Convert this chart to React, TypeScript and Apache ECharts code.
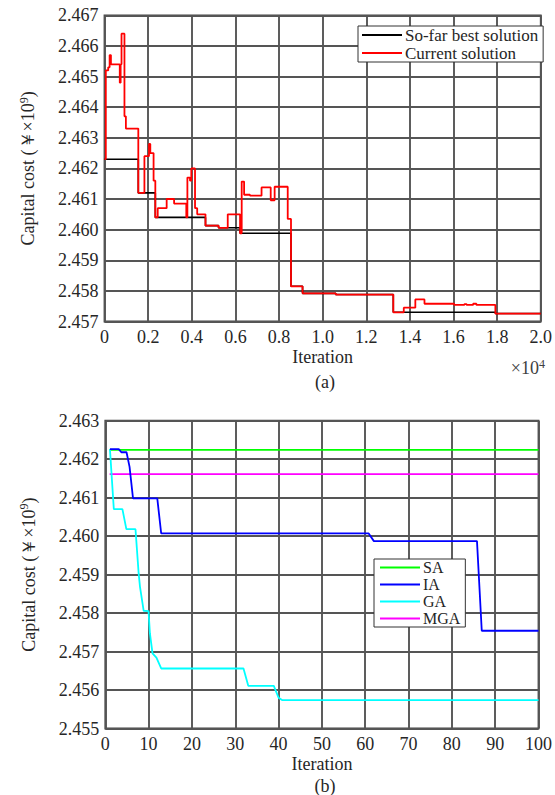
import React, { useEffect, useRef } from 'react';
import * as echarts from 'echarts';

const topXTickLabels = ['0', '0.2', '0.4', '0.6', '0.8', '1.0', '1.2', '1.4', '1.6', '1.8', '2.0'];
const topYTickLabels = ['2.457', '2.458', '2.459', '2.460', '2.461', '2.462', '2.463', '2.464', '2.465', '2.466', '2.467'];
const bottomXTickLabels = ['0', '10', '20', '30', '40', '50', '60', '70', '80', '90', '100'];
const bottomYTickLabels = ['2.455', '2.456', '2.457', '2.458', '2.459', '2.460', '2.461', '2.462', '2.463'];

const topLegendNames = ['So-far best solution', 'Current solution'];
const bottomLegendNames = ['SA', 'IA', 'GA', 'MGA'];

// (a) iteration, capital cost  (step: value holds until next point)
const currentSolution: [number, number][] = [
  [0, 2.4623], [60, 2.4652], [170, 2.4653], [235, 2.4657], [295, 2.4654],
  [700, 2.4648], [740, 2.4654], [780, 2.4664], [915, 2.4637], [980, 2.4633],
  [1550, 2.4612], [1830, 2.4624], [2040, 2.4628], [2100, 2.4625], [2250, 2.4616],
  [2330, 2.4604], [2440, 2.4607], [2850, 2.4610], [3190, 2.46085], [3750, 2.4604],
  [3800, 2.4617], [3920, 2.4616], [3980, 2.4620], [4150, 2.4607], [4250, 2.4605],
  [4630, 2.46013], [5230, 2.46006], [5650, 2.4605], [6215, 2.45988], [6290, 2.46157],
  [6400, 2.46114], [6670, 2.46111], [7200, 2.46138], [7620, 2.46096], [7800, 2.4614],
  [8400, 2.46035], [8550, 2.45815], [9080, 2.45792], [10600, 2.45788], [13240, 2.4573],
  [13720, 2.45745], [14250, 2.45772], [14670, 2.45758], [16030, 2.45754], [16500, 2.45757],
  [16600, 2.45754], [16900, 2.45758], [17050, 2.45754], [17920, 2.45726], [20000, 2.45726],
];
const bestSolution: [number, number][] = [
  [0, 2.4623], [1550, 2.4612], [2330, 2.4604], [4630, 2.46013], [5230, 2.46006],
  [6215, 2.45988], [8550, 2.45815], [9080, 2.45792], [10600, 2.45788], [13240, 2.4573],
  [17920, 2.45726], [20000, 2.45726],
];

// (b) iteration, capital cost
const saCurve: [number, number][] = [[1, 2.46224], [100, 2.46224]];
const mgaCurve: [number, number][] = [[1, 2.46161], [100, 2.46161]];
const iaCurve: [number, number][] = [
  [1.07, 2.46226], [3.1, 2.46226], [3.7, 2.46218], [4.9, 2.46218], [5.6, 2.4618],
  [6.4, 2.46098], [12.0, 2.46098], [12.9, 2.46007], [60.8, 2.46007], [62, 2.45987],
  [85.8, 2.45987], [86.9, 2.45754], [100, 2.45754],
];
const gaCurve: [number, number][] = [
  [1.07, 2.46226], [1.97, 2.4607], [3.95, 2.4607], [4.86, 2.46018], [6.97, 2.46018],
  [7.7, 2.45903], [8.0, 2.45869], [8.86, 2.45806], [9.98, 2.45805], [10.3, 2.45747],
  [10.9, 2.45695], [11.8, 2.45684], [12.9, 2.45656], [31.9, 2.45656], [33.0, 2.45611],
  [38.9, 2.45611], [40.0, 2.4558], [40.8, 2.45574], [100, 2.45574],
];

const FONT = 'Liberation Serif';
const TXT = '#262626';
const GRIDC = '#555555';
const FS = 18;

export default function App() {
  const ref = useRef<HTMLDivElement>(null);
  useEffect(() => {
    if (!ref.current) return;
    const chart = echarts.init(ref.current, null, { renderer: 'svg' });
    const yName = 'Capital cost (￥×10{sup|9})';
    const axisLabel = { color: TXT, fontFamily: FONT, fontSize: FS };
    const splitLine = { show: true, lineStyle: { color: GRIDC, width: 1.9 } };
    const nameTextStyle = {
      color: TXT, fontFamily: FONT, fontSize: FS,
      rich: { sup: { fontSize: 12, fontFamily: FONT, color: TXT, verticalAlign: 'top', padding: [0, 0, 9, 0] } },
    };
    const option: any = {
      animation: false,
      backgroundColor: '#fff',
      textStyle: { fontFamily: FONT, color: TXT },
      grid: [
        { left: 104.5, top: 15.3, right: 9, height: 306.2, show: true, borderColor: '#444', borderWidth: 1.8, backgroundColor: 'transparent' },
        { left: 105.3, top: 420.7, right: 9, height: 307.8, show: true, borderColor: '#444', borderWidth: 1.8, backgroundColor: 'transparent' },
      ],
      xAxis: [
        {
          type: 'value', gridIndex: 0, min: 0, max: 20000, interval: 2000,
          axisLine: { show: false }, axisTick: { show: false }, splitLine,
          axisLabel: { ...axisLabel, margin: 6, formatter: (v: number) => topXTickLabels[Math.round(v / 2000)] },
          name: 'Iteration', nameLocation: 'middle', nameGap: 26, nameTextStyle: { color: TXT, fontFamily: FONT, fontSize: FS },
        },
        {
          type: 'value', gridIndex: 1, min: 0, max: 100, interval: 10,
          axisLine: { show: false }, axisTick: { show: false }, splitLine,
          axisLabel: { ...axisLabel, margin: 6, formatter: (v: number) => bottomXTickLabels[Math.round(v / 10)] },
          name: 'Iteration', nameLocation: 'middle', nameGap: 26, nameTextStyle: { color: TXT, fontFamily: FONT, fontSize: FS },
        },
      ],
      yAxis: [
        {
          type: 'value', gridIndex: 0, min: 2.457, max: 2.467, interval: 0.001,
          axisLine: { show: false }, axisTick: { show: false }, splitLine,
          axisLabel: { ...axisLabel, margin: 6, formatter: (v: number) => topYTickLabels[Math.round((v - 2.457) / 0.001)] },
          name: yName, nameLocation: 'middle', nameGap: 66, nameRotate: 90, nameTextStyle,
        },
        {
          type: 'value', gridIndex: 1, min: 2.455, max: 2.463, interval: 0.001,
          axisLine: { show: false }, axisTick: { show: false }, splitLine,
          axisLabel: { ...axisLabel, margin: 6, formatter: (v: number) => bottomYTickLabels[Math.round((v - 2.455) / 0.001)] },
          name: yName, nameLocation: 'middle', nameGap: 66, nameRotate: 90, nameTextStyle,
        },
      ],
      legend: [
        {
          data: topLegendNames, orient: 'vertical', left: 358, top: 26,
          icon: 'rect', itemWidth: 40, itemHeight: 2, itemGap: 0,
          padding: [0, 5, 0, 4], borderColor: '#333', borderWidth: 1, backgroundColor: '#fff',
          textStyle: { color: TXT, fontFamily: FONT, fontSize: 17, lineHeight: 18, padding: [0, 0, 0, -2] },
        },
        {
          data: bottomLegendNames, orient: 'vertical', left: 374, top: 559,
          icon: 'rect', itemWidth: 40, itemHeight: 2, itemGap: 0,
          padding: [0, 5, 0, 6], borderColor: '#333', borderWidth: 1, backgroundColor: '#fff',
          textStyle: { color: TXT, fontFamily: FONT, fontSize: 16, lineHeight: 17, padding: [0, 0, 0, -2] },
        },
      ],
      series: [
        { name: topLegendNames[0], type: 'line', xAxisIndex: 0, yAxisIndex: 0, step: 'end', data: bestSolution, showSymbol: false, symbol: 'none', lineStyle: { color: '#000', width: 1.6 }, itemStyle: { color: '#000' } },
        { name: topLegendNames[1], type: 'line', xAxisIndex: 0, yAxisIndex: 0, step: 'end', data: currentSolution, showSymbol: false, symbol: 'none', lineStyle: { color: '#ff0000', width: 1.8 }, itemStyle: { color: '#ff0000' } },
        { name: 'SA', type: 'line', xAxisIndex: 1, yAxisIndex: 1, data: saCurve, showSymbol: false, symbol: 'none', lineStyle: { color: '#00ff00', width: 1.8 }, itemStyle: { color: '#00ff00' } },
        { name: 'MGA', type: 'line', xAxisIndex: 1, yAxisIndex: 1, data: mgaCurve, showSymbol: false, symbol: 'none', lineStyle: { color: '#ff00ff', width: 1.8 }, itemStyle: { color: '#ff00ff' } },
        { name: 'GA', type: 'line', xAxisIndex: 1, yAxisIndex: 1, data: gaCurve, showSymbol: false, symbol: 'none', lineStyle: { color: '#00ffff', width: 1.8 }, itemStyle: { color: '#00ffff' } },
        { name: 'IA', type: 'line', xAxisIndex: 1, yAxisIndex: 1, data: iaCurve, showSymbol: false, symbol: 'none', lineStyle: { color: '#0000ff', width: 1.8 }, itemStyle: { color: '#0000ff' } },
      ],
      graphic: [
        {
          type: 'text', x: 545, y: 368,
          style: {
            text: '×10{sup|4}', align: 'right', verticalAlign: 'middle', fill: '#404040', fontFamily: FONT, fontSize: FS,
            rich: { sup: { fontSize: 12, fontFamily: FONT, fill: '#404040', verticalAlign: 'top', padding: [0, 0, 9, 0] } },
          },
        },
        { type: 'text', x: 325, y: 382, style: { text: '(a)', align: 'center', verticalAlign: 'middle', fill: TXT, fontFamily: FONT, fontSize: FS } },
        { type: 'text', x: 325, y: 786, style: { text: '(b)', align: 'center', verticalAlign: 'middle', fill: TXT, fontFamily: FONT, fontSize: FS } },
      ],
    };
    chart.setOption(option);
    return () => chart.dispose();
  }, []);
  return <div ref={ref} style={{ position: 'absolute', left: 0, top: 0, width: 555, height: 795 }} />;
}
